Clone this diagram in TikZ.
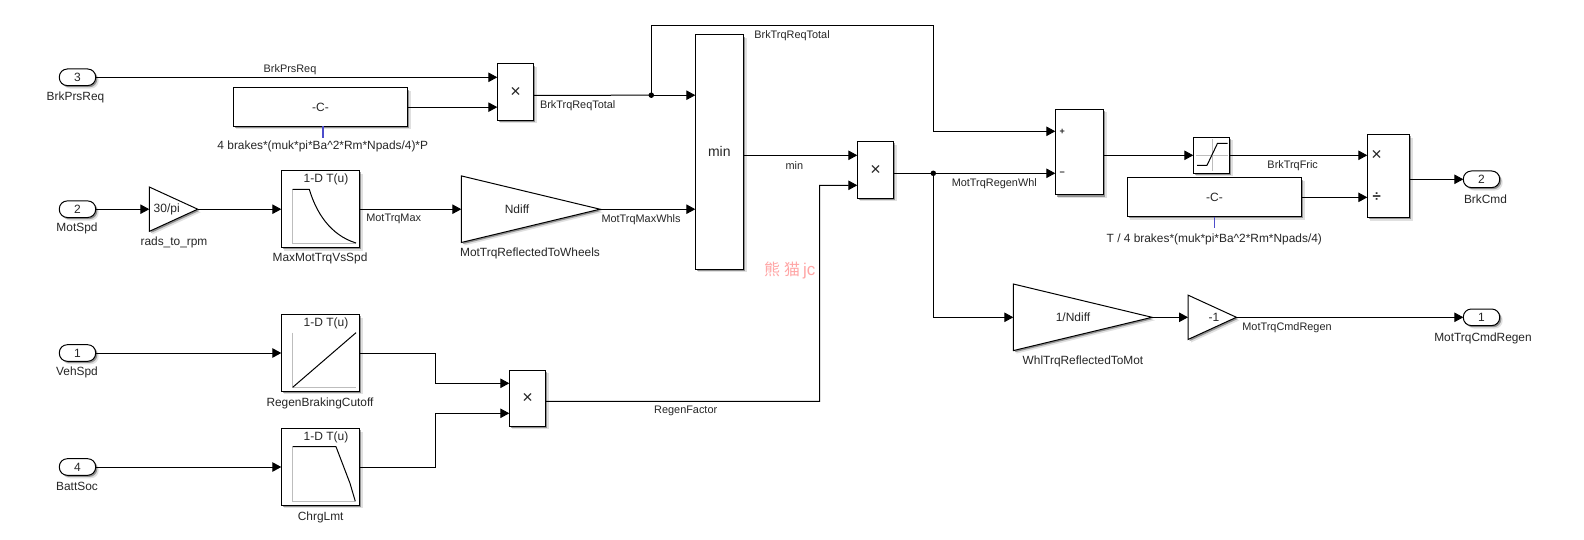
\documentclass[tikz,border=0pt]{standalone}
\usepackage{fontspec}
\setmainfont{Liberation Sans}
\newfontfamily\cjk{Noto Sans CJK SC}
\usetikzlibrary{arrows.meta,shadows,shapes.geometric,calc}
\definecolor{txt}{HTML}{262626}
\definecolor{axisgray}{HTML}{BDBDBD}
\tikzset{
  blockshadow/.style={drop shadow={shadow xshift=3pt,shadow yshift=-3pt,fill=black,opacity=0.12},
                      drop shadow={shadow xshift=1.6pt,shadow yshift=-1.6pt,fill=black,opacity=0.35}},
  blockbox/.style n args={2}{draw=black,line width=1pt,fill=white,blockshadow,rectangle,anchor=north west,
      inner sep=0pt,outer sep=0pt,minimum width=#1pt,minimum height=#2pt,text=txt,font=\fontsize{12}{13}\selectfont},
  portbox/.style={draw=black,line width=1pt,fill=white,blockshadow,rectangle,rounded corners=8pt,
      inner sep=0pt,outer sep=0pt,minimum width=36.4pt,minimum height=16.6pt,text=txt,font=\fontsize{12}{13}\selectfont},
  gainbox/.style n args={2}{draw=black,line width=1pt,fill=white,blockshadow,isosceles triangle,isosceles triangle stretches,
      shape border rotate=0,anchor=lower side,inner sep=0pt,outer sep=0pt,minimum height=#1pt,minimum width=#2pt},
  blocklabel/.style={text=txt,font=\fontsize{11.9}{13}\selectfont,inner sep=0pt,yshift=-0.7pt},
  inlabel/.style={text=txt,font=\fontsize{12}{13}\selectfont,inner sep=0pt},
  wirelabel/.style={text=txt,font=\fontsize{10.9}{12}\selectfont,inner sep=0pt,yshift=-1pt},
  prodsym/.style={text=txt,font=\fontsize{18}{18}\selectfont,inner sep=0pt},
  divsym/.style={text=txt,font=\fontsize{15}{15}\selectfont\bfseries,inner sep=0pt},
  signsym/.style={text=txt,font=\fontsize{9}{10}\selectfont\bfseries,inner sep=0pt},
  wire/.style={draw=black,line width=1pt,-{Triangle[length=9pt,width=9.5pt]}},
  plainwire/.style={draw=black,line width=1pt},
  jointdot/.style={circle,fill=black,inner sep=0pt,minimum size=5.5pt},
  axisline/.style={draw=axisgray,line width=1pt},
  curveline/.style={draw=black,line width=1pt,line join=round},
  bluetick/.style={draw=blue!55!gray!90,line width=1.5pt},
}
\begin{document}
\begin{tikzpicture}[x=1pt,y=-1pt]
\useasboundingbox (0,0) rectangle (1584,540);
\fill[white] (0,0) rectangle (1584,540);

% watermark
\node[text=red!35,font=\fontsize{16}{18}\selectfont,inner sep=0pt,anchor=west] (wm) at (764,270)
  {{\cjk 熊\hspace{4pt}猫}\hspace{3pt}{\fontsize{17}{18}\selectfont jc}};

% inports
\node[portbox] (p3) at (77.5,77.3) {3};
\node[portbox] (p2) at (77.5,209.2) {2};
\node[portbox] (p1) at (77.5,353) {1};
\node[portbox] (p4) at (77.5,467) {4};
\node[blocklabel] (l3) at (75.5,96.3) {BrkPrsReq};
\node[blocklabel] (l2) at (77,228) {MotSpd};
\node[blocklabel] (l1) at (77,372) {VehSpd};
\node[blocklabel] (l4) at (77,486) {BattSoc};

% products
\node[blockbox={36.4}{56.3}] (prod1) at (497.3,64) {};
\node[prodsym] (sx1) at (prod1.center) {×};
\node[blockbox={36.4}{56.3}] (prod2) at (509.3,370) {};
\node[prodsym] (sx2) at (prod2.center) {×};
\node[blockbox={36.4}{56.6}] (prod3) at (857.3,141.7) {};
\node[prodsym] (sx3) at (prod3.center) {×};
\node[blockbox={42.4}{83}] (prod4) at (1367.3,134.7) {};
\node[prodsym] (sx4) at (1376.7,155.3) {×};
\node[divsym] (sd4) at (1376.7,197.3) {÷};

% constants
\node[blockbox={174.4}{38.3}] (c1) at (233.3,88) {-C-};
\node[blockbox={174.4}{38.7}] (c2) at (1127.3,178) {-C-};
\node[blocklabel] (c1l) at (322.8,146) {4 brakes*(muk*pi*Ba\string^2*Rm*Npads/4)*P};
\node[blocklabel] (c2l) at (1214.3,238.3) {T / 4 brakes*(muk*pi*Ba\string^2*Rm*Npads/4)};
\draw[bluetick] ($(c1.south)+(2.5,0)$) -- ++(0,11.5);
\draw[bluetick] (c2.south) -- ++(0,11);

% gains
\node[gainbox={48.4}{44.4}] (g1) at (149.3,209.2) {};
\node[inlabel] (g1t) at (166.7,209) {30/pi};
\node[blocklabel] (g1l) at (174,241.7) {rads\_to\_rpm};
\node[gainbox={138.7}{66.6}] (g2) at (461.3,209.2) {};
\node[inlabel] (g2t) at (517,209) {Ndiff};
\node[blocklabel] (g2l) at (530,253) {MotTrqReflectedToWheels};
\node[gainbox={138.7}{66.6}] (g3) at (1013.3,317.3) {};
\node[inlabel] (g3t) at (1073,317.3) {1/Ndiff};
\node[blocklabel] (g3l) at (1083,360.6) {WhlTrqReflectedToMot};
\node[gainbox={48.4}{44.4}] (g4) at (1188,317.3) {};
\node[inlabel] (g4t) at (1214,317.3) {-1};

% lookups
\node[blockbox={78.4}{77}] (lu1) at (281.3,170.7) {};
\node[inlabel] (lu1t) at (326,179) {1-D T(u)};
\node[blocklabel] (lu1l) at (320,258) {MaxMotTrqVsSpd};
\draw[axisline] (292.7,189.3) -- (292.7,243) -- (356,243);
\draw[curveline] (292.7,189.3) -- (309.3,189.3) .. controls (316,212) and (330,235) .. (356,243);

\node[blockbox={78.4}{76.6}] (lu2) at (281.3,314.7) {};
\node[inlabel] (lu2t) at (326,323) {1-D T(u)};
\node[blocklabel] (lu2l) at (320,402.3) {RegenBrakingCutoff};
\draw[axisline] (292.7,332.7) -- (292.7,387.3) -- (356,387.3);
\draw[curveline] (292.7,387.3) -- (356,332.7);

\node[blockbox={78.4}{76.6}] (lu3) at (281.3,428.7) {};
\node[inlabel] (lu3t) at (326,437.3) {1-D T(u)};
\node[blocklabel] (lu3l) at (320.7,516.3) {ChrgLmt};
\draw[axisline] (292.7,446.7) -- (292.7,501.3) -- (355.3,501.3);
\draw[curveline] (292.7,446.7) -- (336,446.7) -- (350,483.3) -- (355.3,501.3);

% min
\node[blockbox={48.4}{234}] (mn) at (695.3,35) {};
\node[text=txt,font=\fontsize{14}{16}\selectfont,inner sep=0pt] (mnt) at (719.3,151.3) {min};

% sum
\node[blockbox={48.4}{85.7}] (sm) at (1055.3,109.3) {};
\node[signsym] (smp) at (1062.3,131.5) {+};
\node[signsym] (smm) at (1062.3,173.5) {−};

% saturation
\node[blockbox={36.4}{36.4}] (sat) at (1193.3,137.1) {};
\draw[axisline] (1212,139.5) -- (1212,171) (1196,155.3) -- (1228,155.3);
\draw[curveline] (1197,165.3) -- (1207,165.3) -- (1217.5,143.3) -- (1227.5,143.3);

% outports
\node[portbox] (o2) at (1481.5,179.3) {2};
\node[blocklabel] (o2l) at (1485.5,199) {BrkCmd};
\node[portbox] (o1) at (1481.5,317.3) {1};
\node[blocklabel] (o1l) at (1483,337.4) {MotTrqCmdRegen};

% junction anchors
\coordinate (prod1out) at ($(prod1.east)+(0,3.2)$);
\coordinate (prod2out) at ($(prod2.east)+(0,3.2)$);
\coordinate (prod3out) at ($(prod3.east)+(0,3.3)$);
\coordinate (prod4out) at ($(prod4.east)+(0,3.1)$);
\coordinate (up1) at (651.3,25.3);
\coordinate (up2) at (933.3,25.3);
\coordinate (min1) at (695.3,95.2);
\coordinate (min2) at (695.3,209.2);
\node[jointdot] (j1) at (651.3,95.2) {};
\node[jointdot] (j2) at (933.3,173.3) {};

% wires
\draw[wire] (p3.east) -- (p3.east -| prod1.west);
\draw[wire] (c1.east) -- (c1.east -| prod1.west);
\draw[wire] (p2.east) -- (g1.lower side);
\draw[wire] (g1.apex) -- (lu1.west);
\draw[wire] (lu1.east) -- (g2.lower side);
\draw[wire] (g2.apex) -- (min2);
\draw[wire] (p1.east) -- (lu2.west);
\draw[wire] (p4.east) -- (lu3.west);
\draw[wire] (lu2.east) -- (435.3,353) -- (435.3,383.3) -- (509.3,383.3);
\draw[wire] (lu3.east) -- (435.3,467) -- (435.3,413.3) -- (509.3,413.3);
\draw[plainwire] (prod1out) -- (j1.center);
\draw[wire] (j1.center) -- (min1);
\draw[wire] (j1.center) -- (up1) -- (up2) -- (933.3,131.3) -- (1055.3,131.3);
\draw[wire] (743.7,155.3) -- (857.3,155.3);
\draw[wire] (prod2out) -- (819.5,401.3) -- (819.5,185.3) -- (857.3,185.3);
\draw[plainwire] (prod3out) -- (j2.center);
\draw[wire] (j2.center) -- (sm.west |- j2.center);
\draw[wire] (j2.center) -- (933.3,317.3) -- (g3.lower side);
\draw[wire] (sm.east |- sat.west) -- (sat.west);
\draw[wire] (sat.east) -- (sat.east -| prod4.west);
\draw[wire] (c2.east) -- (c2.east -| prod4.west);
\draw[wire] (prod4out) -- (o2.west);
\draw[wire] (g3.apex) -- (g4.lower side);
\draw[wire] (g4.apex) -- (o1.west);

% wire labels
\node[wirelabel] (w1) at (290,68.7) {BrkPrsReq};
\node[wirelabel] (w2) at (577.7,104.3) {BrkTrqReqTotal};
\node[wirelabel] (w3) at (792,34.3) {BrkTrqReqTotal};
\node[wirelabel] (w4) at (393.7,218) {MotTrqMax};
\node[wirelabel] (w5) at (641,218.3) {MotTrqMaxWhls};
\node[wirelabel] (w6) at (794.3,164.3) {min};
\node[wirelabel] (w7) at (994.3,182.3) {MotTrqRegenWhl};
\node[wirelabel] (w8) at (1292.7,164.3) {BrkTrqFric};
\node[wirelabel] (w9) at (685.7,410.3) {RegenFactor};
\node[wirelabel] (w10) at (1287,326.3) {MotTrqCmdRegen};
\end{tikzpicture}
\end{document}
